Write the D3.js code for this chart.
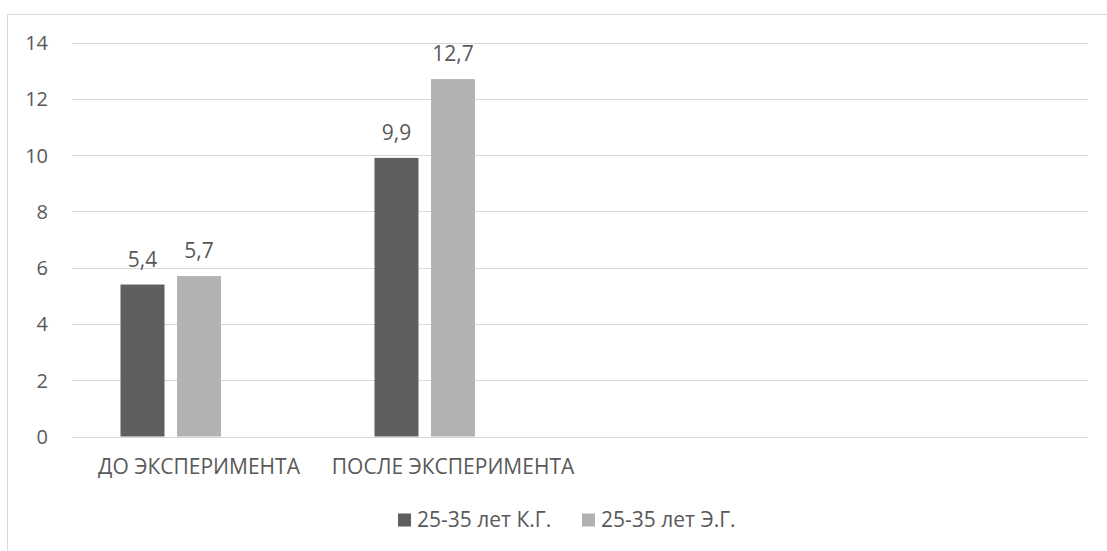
<!DOCTYPE html>
<html>
<head>
<meta charset="utf-8">
<script src="https://cdn.jsdelivr.net/npm/d3@7"></script>
<style>
  html, body { margin: 0; padding: 0; background: #fff; }
  svg { display: block; }
  text { font-family: "Open Sans", "Noto Sans", sans-serif; fill: #595959; }
</style>
</head>
<body>
<svg id="chart" width="1107" height="551"></svg>
<script>
// Chart data
const categories = ["ДО ЭКСПЕРИМЕНТА", "ПОСЛЕ ЭКСПЕРИМЕНТА", "", ""];
const seriesNames = ["25-35 лет К.Г.", "25-35 лет Э.Г."];
const kgValues = [5.4, 9.9];
const egValues = [5.7, 12.7];
const yTicks = [0, 2, 4, 6, 8, 10, 12, 14];
const seriesSlots = [0, 1, 2]; // third slot is an empty series
const colors = ["#5f5f5f", "#b2b2b2"];

const svg = d3.select("#chart");
const W = 1107, H = 551;
const plot = { left: 72, right: 1088, top: 42.5, bottom: 436.5 };
const FS = 21;

// Outer chart frame (extends beyond the visible area on the right and bottom)
svg.append("rect")
  .attr("x", 7.5).attr("y", 14.5)
  .attr("width", W).attr("height", H)
  .attr("fill", "none").attr("stroke", "#d9d9d9").attr("stroke-width", 1);

const x = d3.scaleBand()
  .domain(d3.range(categories.length))
  .range([plot.left, plot.right])
  .padding(0);

const bw = x.bandwidth();
const p = 0.2212;
const xInner = d3.scaleBand()
  .domain(seriesSlots)
  .range([bw / 2 - 84.75, bw / 2 + 84.75])
  .paddingInner(p).paddingOuter(p / 2);

const y = d3.scaleLinear().domain([0, 14]).range([plot.bottom, plot.top]);

// Gridlines
svg.append("g").selectAll("line")
  .data(yTicks).join("line")
  .attr("x1", plot.left).attr("x2", plot.right)
  .attr("y1", d => Math.round(y(d)) + 0.5).attr("y2", d => Math.round(y(d)) + 0.5)
  .attr("stroke", "#d9d9d9").attr("stroke-width", 1);

// Y axis labels
const yAxis = d3.axisLeft(y).tickValues(yTicks).tickSize(0).tickPadding(0).tickFormat(d3.format("d"));
const yg = svg.append("g").attr("transform", `translate(48,0)`).call(yAxis);
yg.select(".domain").remove();
yg.selectAll("text")
  .attr("font-size", 20).attr("dy", "0.35em")
  .style("font-family", '"Open Sans", sans-serif').attr("fill", "#595959");

// X axis category labels
const xAxis = d3.axisBottom(x).tickSize(0).tickPadding(0).tickFormat(i => categories[i]);
const xg = svg.append("g").attr("transform", `translate(0,474)`).call(xAxis);
xg.select(".domain").remove();
xg.selectAll("text")
  .attr("font-size", FS).attr("dy", 0).attr("y", 0)
  .style("font-family", '"Open Sans", sans-serif').attr("fill", "#595959");

// Bars
const seriesData = [kgValues, egValues];
seriesData.forEach((vals, s) => {
  const g = svg.append("g");
  g.selectAll("rect").data(vals).join("rect")
    .attr("x", (d, i) => x(i) + xInner(s))
    .attr("width", xInner.bandwidth())
    .attr("y", d => y(d))
    .attr("height", d => y(0) - y(d))
    .attr("fill", colors[s]);
  g.selectAll("text").data(vals).join("text")
    .attr("x", (d, i) => x(i) + xInner(s) + xInner.bandwidth() / 2)
    .attr("y", d => y(d) - 18)
    .attr("text-anchor", "middle")
    .attr("font-size", FS)
    .text(d => d3.format(".1f")(d).replace(".", ","));
});

// Legend
const legendX = [398, 582];
const legend = svg.append("g");
seriesNames.forEach((name, s) => {
  legend.append("rect")
    .attr("x", legendX[s]).attr("y", 513.5)
    .attr("width", 13).attr("height", 13)
    .attr("fill", colors[s]);
  legend.append("text")
    .attr("x", legendX[s] + 19).attr("y", 527)
    .attr("font-size", FS)
    .text(name);
});
</script>
</body>
</html>
